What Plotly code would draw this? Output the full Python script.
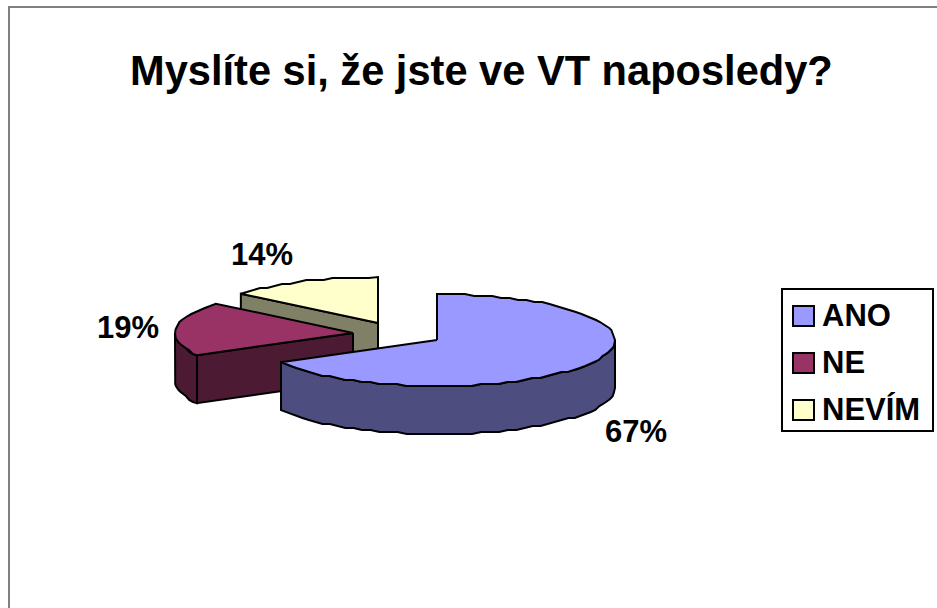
import math
import plotly.graph_objects as go

TITLE = "Myslíte si, že jste ve VT naposledy?"
categories = ["ANO", "NE", "NEVÍM"]
percent_values = [67, 19, 14]
top_colors = ["#9999FF", "#993366", "#FFFFCC"]
side_colors = ["#4D4D80", "#4D1A33", "#808066"]

W, H = 937, 608
RX, RY, DEPTH = 178, 46, 48
centers = [(437, 340), (353, 333), (378, 323)]
label_pos = [(636, 431), (128, 327), (262, 254)]
legend_y = [316, 363, 410]


def pt(c, a, dy=0):
    r = math.radians(a)
    return c[0] + RX * math.sin(r), c[1] - RY * math.cos(r) + dy


def arc(c, a0, a1, dy=0, step=3):
    n = max(1, round(abs(a1 - a0) / step))
    out = []
    for i in range(n + 1):
        x, y = pt(c, a0 + (a1 - a0) * i / n, dy)
        if 0 < i < n:
            y = round(y / 2) * 2  # slight raster stepping of the original outline
        out.append((x, y))
    return out


# Slice angles (clockwise from 12 o'clock) come from the values
total = sum(percent_values)
edges = [0]
for v in percent_values:
    edges.append(edges[-1] + 360 * v / total)

fig = go.Figure()


def poly(points, color, name):
    xs = [p[0] for p in points] + [points[0][0]]
    ys = [p[1] for p in points] + [points[0][1]]
    fig.add_trace(go.Scatter(x=xs, y=ys, mode="lines", fill="toself", fillcolor=color,
                             line=dict(color="black", width=2), name=name,
                             hoverinfo="skip", showlegend=False))


ano_c, ne_c, nev_c = centers
# NEVIM: cut face, then top
a = edges[2]
tip = pt(nev_c, a)
poly([nev_c, tip, (tip[0], tip[1] + DEPTH), (nev_c[0], nev_c[1] + DEPTH)], side_colors[2], "NEVÍM face")
poly([nev_c] + arc(nev_c, edges[2], edges[3]), top_colors[2], categories[2])
# NE: outer wall, cut face, top
poly(arc(ne_c, edges[1], 270) + arc(ne_c, 270, edges[1], DEPTH), side_colors[1], "NE wall")
a = edges[1]
tip = pt(ne_c, a)
poly([ne_c, tip, (tip[0], tip[1] + DEPTH), (ne_c[0], ne_c[1] + DEPTH)], side_colors[1], "NE face")
poly([ne_c] + arc(ne_c, edges[1], edges[2]), top_colors[1], categories[1])
# ANO: outer wall, top
poly(arc(ano_c, 90, edges[1]) + arc(ano_c, edges[1], 90, DEPTH), side_colors[0], "ANO wall")
poly([ano_c] + arc(ano_c, edges[0], edges[1]), top_colors[0], categories[0])

FONT = "Liberation Sans, Arial, sans-serif"
annotations = [dict(x=481, y=70, text=f"<b>{TITLE}</b>", showarrow=False,
                    font=dict(family=FONT, size=41.6, color="black"))]
for (x, y), v in zip(label_pos, percent_values):
    annotations.append(dict(x=x, y=y, text=f"<b>{v}%</b>", showarrow=False,
                            font=dict(family=FONT, size=31, color="black")))

shapes = [
    dict(type="rect", x0=9, y0=7, x1=W + 20, y1=H + 20, line=dict(color="#808080", width=2), layer="below"),
    dict(type="rect", x0=782, y0=289, x1=933, y1=431, line=dict(color="black", width=2), fillcolor="white"),
]
for cat, col, y in zip(categories, top_colors, legend_y):
    shapes.append(dict(type="rect", x0=793, x1=814, y0=y - 10, y1=y + 10, fillcolor=col,
                       line=dict(color="black", width=2)))
    annotations.append(dict(x=820, y=y - 1, text=f"<b>{cat}</b>", showarrow=False, xanchor="left",
                            font=dict(family=FONT, size=31, color="black")))

fig.update_layout(
    width=W, height=H, margin=dict(l=0, r=0, t=0, b=0), autosize=False,
    paper_bgcolor="white", plot_bgcolor="white", showlegend=False,
    xaxis=dict(range=[0, W], visible=False, fixedrange=True),
    yaxis=dict(range=[H, 0], visible=False, fixedrange=True),
    shapes=shapes, annotations=annotations,
)
fig.write_html("out.html", config={"displayModeBar": False},
               post_script="document.body.style.margin='0';document.body.style.overflow='hidden';")
